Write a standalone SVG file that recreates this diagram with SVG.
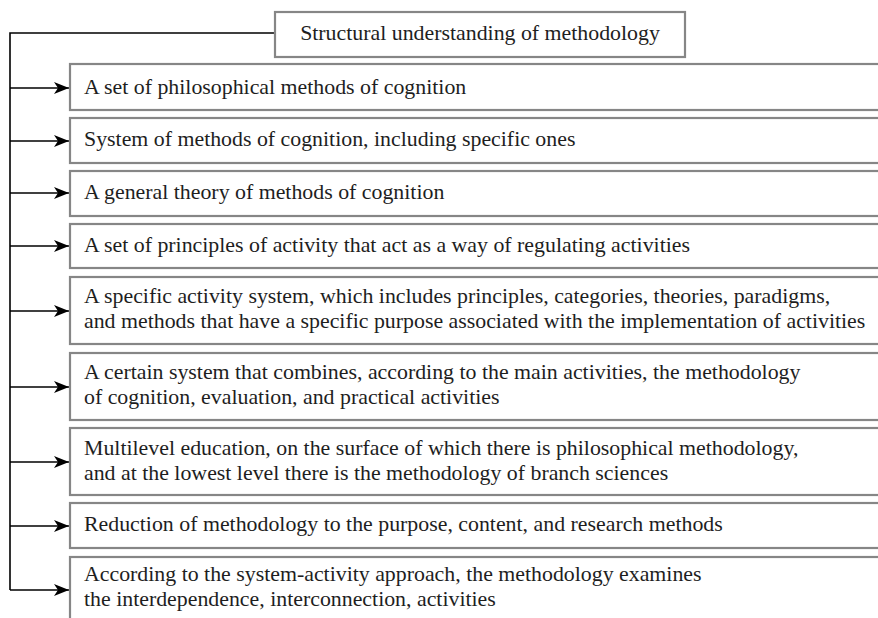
<svg xmlns="http://www.w3.org/2000/svg" width="878" height="618" viewBox="0 0 878 618">
<style>
.box{fill:#fff;stroke:#868686;stroke-width:2.2}
.t{font-family:"Liberation Serif","Times New Roman",serif;font-size:21.85px;fill:#1e1e1e}
.c{fill:none;stroke:#000;stroke-width:1.6}
</style>
<defs>
<marker id="ah" markerUnits="userSpaceOnUse" markerWidth="18" markerHeight="14" viewBox="0 0 18 14" refX="15" refY="7" orient="auto">
<path d="M0,1 L15,7 L0,13 L4,7 Z" fill="#000"/>
</marker>
</defs>
<rect width="878" height="618" fill="#fff"/>
<g id="connectors">
<path class="c" d="M275,33 H10 V590"/>
<line class="c" x1="10" y1="88" x2="69" y2="88" marker-end="url(#ah)"/>
<line class="c" x1="10" y1="141" x2="69" y2="141" marker-end="url(#ah)"/>
<line class="c" x1="10" y1="193" x2="69" y2="193" marker-end="url(#ah)"/>
<line class="c" x1="10" y1="246" x2="69" y2="246" marker-end="url(#ah)"/>
<line class="c" x1="10" y1="311" x2="69" y2="311" marker-end="url(#ah)"/>
<line class="c" x1="10" y1="387" x2="69" y2="387" marker-end="url(#ah)"/>
<line class="c" x1="10" y1="462" x2="69" y2="462" marker-end="url(#ah)"/>
<line class="c" x1="10" y1="526" x2="69" y2="526" marker-end="url(#ah)"/>
<line class="c" x1="10" y1="590" x2="69" y2="590" marker-end="url(#ah)"/>
</g>
<g id="root">
<rect class="box" x="275" y="12" width="410" height="45"/>
<text class="t" x="480" y="40" text-anchor="middle">Structural understanding of methodology</text>
</g>
<g id="n1">
<rect class="box" x="70" y="64" width="840" height="46"/>
<text class="t" x="84" y="94">A set of philosophical methods of cognition</text>
</g>
<g id="n2">
<rect class="box" x="70" y="118" width="840" height="45"/>
<text class="t" x="84" y="146">System of methods of cognition, including specific ones</text>
</g>
<g id="n3">
<rect class="box" x="70" y="171" width="840" height="45"/>
<text class="t" x="84" y="199">A general theory of methods of cognition</text>
</g>
<g id="n4">
<rect class="box" x="70" y="224" width="840" height="44"/>
<text class="t" x="84" y="252">A set of principles of activity that act as a way of regulating activities</text>
</g>
<g id="n5">
<rect class="box" x="70" y="277" width="840" height="67"/>
<text class="t" x="84" y="302.5">A specific activity system, which includes principles, categories, theories, paradigms,</text>
<text class="t" x="84" y="328">and methods that have a specific purpose associated with the implementation of activities</text>
</g>
<g id="n6">
<rect class="box" x="70" y="353" width="840" height="67"/>
<text class="t" x="84" y="378.5">A certain system that combines, according to the main activities, the methodology</text>
<text class="t" x="84" y="403.5">of cognition, evaluation, and practical activities</text>
</g>
<g id="n7">
<rect class="box" x="70" y="428" width="840" height="67"/>
<text class="t" x="84" y="455">Multilevel education, on the surface of which there is philosophical methodology,</text>
<text class="t" x="84" y="480">and at the lowest level there is the methodology of branch sciences</text>
</g>
<g id="n8">
<rect class="box" x="70" y="503" width="840" height="45"/>
<text class="t" x="84" y="531">Reduction of methodology to the purpose, content, and research methods</text>
</g>
<g id="n9">
<rect class="box" x="70" y="557" width="840" height="80"/>
<text class="t" x="84" y="581">According to the system-activity approach, the methodology examines</text>
<text class="t" x="84" y="606">the interdependence, interconnection, activities</text>
</g>
</svg>
